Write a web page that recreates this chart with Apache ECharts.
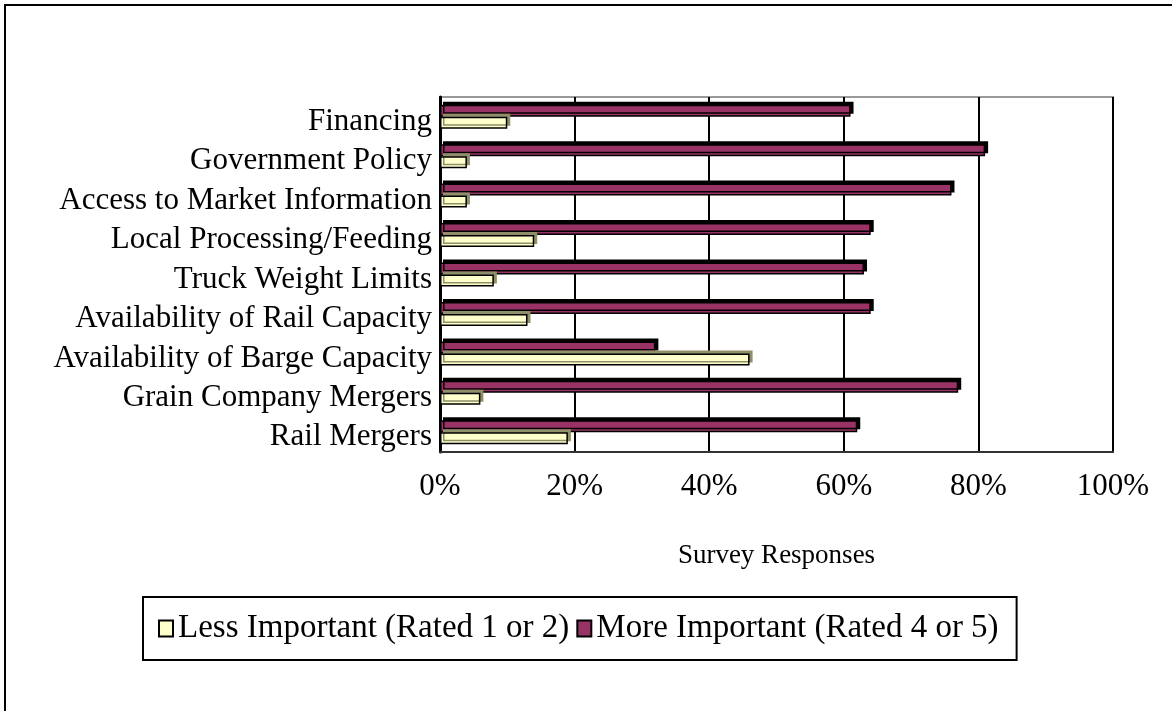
<!DOCTYPE html>
<html>
<head>
<meta charset="utf-8">
<script src="https://cdn.jsdelivr.net/npm/echarts@6/dist/echarts.min.js"></script>
<style>
html,body{margin:0;padding:0;background:#fff;}
#chart{width:1172px;height:711px;}
</style>
</head>
<body>
<div id="chart"></div>
<script>
const categories = ["Financing","Government Policy","Access to Market Information","Local Processing/Feeding","Truck Weight Limits","Availability of Rail Capacity","Availability of Barge Capacity","Grain Company Mergers","Rail Mergers"];
const lessImportant = [10, 4, 4, 14, 8, 13, 46, 6, 19];
const moreImportant = [61, 81, 76, 64, 63, 64, 32, 77, 62];
const xTicks = [0, 20, 40, 60, 80, 100];
const seriesNames = ["Less Important (Rated 1 or 2)", "More Important (Rated 4 or 5)"];
const axisTitle = "Survey Responses";

const FONT = "'Liberation Serif','Times New Roman',serif";
const chart = echarts.init(document.getElementById('chart'), null, {renderer:'canvas'});
chart.setOption({
  animation:false,
  backgroundColor:'#fff',
  graphic:[{type:'rect', shape:{x:5,y:5,width:1300,height:900}, style:{fill:'none', stroke:'#000', lineWidth:2}, silent:true}],
  grid:{left:440, right:59, top:97, height:355, show:true, borderColor:'#999', borderWidth:2, backgroundColor:'transparent'},
  legend:{
    left:143, top:597, orient:'horizontal',
    data:seriesNames,
    backgroundColor:'#fff', borderColor:'#000', borderWidth:2,
    padding:[15,18,15,15],
    itemGap:7, itemWidth:14, itemHeight:16,
    textStyle:{fontFamily:FONT, fontSize:33, color:'#000'},
    icon:'rect'
  },
  xAxis:{
    type:'value', min:xTicks[0], max:xTicks[xTicks.length-1], interval:20,
    axisLabel:{formatter:'{value}%', fontFamily:FONT, fontSize:31, color:'#000', margin:19},
    axisLine:{show:true, lineStyle:{color:'#333', width:2}},
    axisTick:{show:false},
    splitLine:{show:true, lineStyle:{color:'#000', width:2}},
    name:axisTitle, nameLocation:'middle', nameGap:90,
    nameTextStyle:{fontFamily:FONT, fontSize:27, color:'#000'}
  },
  yAxis:{
    type:'category', data:categories, inverse:true,
    axisLabel:{interval:0, hideOverlap:false, margin:8,
      formatter:function(v){return '{a|' + v + '}';},
      rich:{a:{fontFamily:FONT, fontSize:31, color:'#000', padding:[10,0,0,0]}}},
    axisLine:{show:true, lineStyle:{color:'#000', width:3}},
    axisTick:{show:false},
    splitLine:{show:false}
  },
  series:[
    {name:seriesNames[1], type:'bar', data:moreImportant, barWidth:12, barGap:'0%',
     itemStyle:{color:'#993366', borderColor:'#000', borderWidth:1.5, shadowColor:'#000', shadowOffsetX:3, shadowOffsetY:-3, shadowBlur:0}},
    {name:seriesNames[0], type:'bar', data:lessImportant, barWidth:12, barGap:'0%',
     itemStyle:{color:'#FFFFCC', borderColor:'#000', borderWidth:1.5, shadowColor:'#8f8f6a', shadowOffsetX:3, shadowOffsetY:-3, shadowBlur:0}}
  ]
});
</script>
</body>
</html>
